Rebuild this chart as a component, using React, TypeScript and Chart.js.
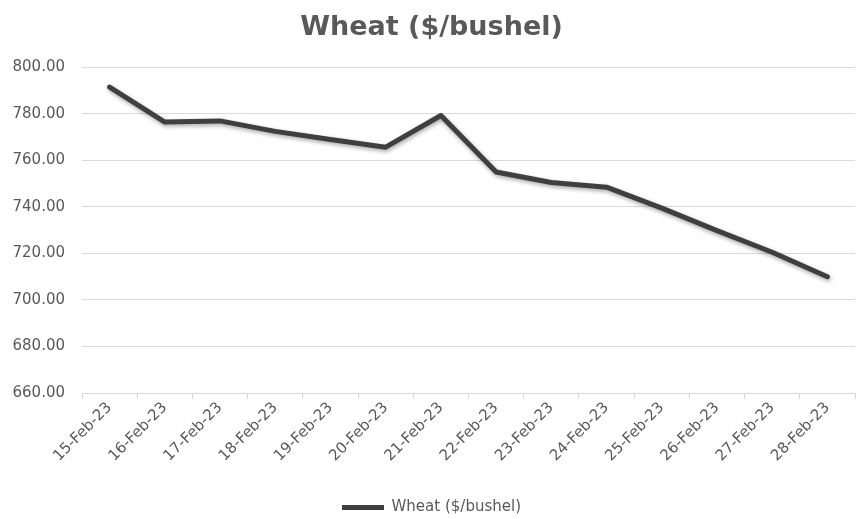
import React, { useEffect, useRef } from "react";
import { Chart, registerables } from "chart.js";

Chart.register(...registerables);

const categories = [
  "15-Feb-23", "16-Feb-23", "17-Feb-23", "18-Feb-23", "19-Feb-23", "20-Feb-23", "21-Feb-23",
  "22-Feb-23", "23-Feb-23", "24-Feb-23", "25-Feb-23", "26-Feb-23", "27-Feb-23", "28-Feb-23",
];
const wheatValues = [791.5, 776.5, 777, 772.5, 769, 765.7, 779.3, 755, 750.5, 748.5, 739.5, 729.8, 720.5, 710];
const seriesName = "Wheat ($/bushel)";
const yMin = 660;
const yMax = 800;
const yStep = 20;

const FONT = "'DejaVu Sans', sans-serif";
const TEXT = "#595959";
const GRID = "#d9d9d9";
const LINE = "#3f3f3f";

const shadowPlugin = {
  id: "lineShadow",
  beforeDatasetDraw(chart: any) {
    const ctx = chart.ctx;
    ctx.save();
    ctx.shadowColor = "rgba(0,0,0,0.35)";
    ctx.shadowBlur = 4;
    ctx.shadowOffsetX = 1;
    ctx.shadowOffsetY = 2;
  },
  afterDatasetDraw(chart: any) {
    chart.ctx.restore();
  },
};

export default function App() {
  const ref = useRef<HTMLCanvasElement | null>(null);

  useEffect(() => {
    if (!ref.current) return;
    const chart = new Chart(ref.current, {
      type: "line",
      data: {
        labels: categories,
        datasets: [
          {
            label: seriesName,
            data: wheatValues,
            borderColor: LINE,
            backgroundColor: LINE,
            borderWidth: 5,
            pointRadius: 0,
            tension: 0,
            borderCapStyle: "round",
            borderJoinStyle: "round",
          },
        ],
      },
      options: {
        animation: false,
        responsive: false,
        maintainAspectRatio: false,
        layout: { padding: { left: 8, right: 3, top: 6, bottom: -6 } },
        plugins: {
          title: {
            display: true,
            text: seriesName,
            color: TEXT,
            font: { family: FONT, size: 27, weight: "bold" },
            padding: { top: 6, bottom: 23 },
          },
          legend: {
            position: "bottom",
            labels: {
              color: TEXT,
              font: { family: FONT, size: 15 },
              usePointStyle: true,
              pointStyle: "line",
              pointStyleWidth: 42,
              boxHeight: 15,
              padding: 2,
            },
          },
          tooltip: { enabled: false },
        },
        scales: {
          x: {
            offset: true,
            grid: {
              display: true,
              offset: true,
              drawOnChartArea: false,
              drawTicks: true,
              tickLength: 6,
              color: GRID,
            },
            border: { display: true, color: GRID },
            ticks: {
              color: TEXT,
              font: { family: FONT, size: 15 },
              minRotation: 45,
              maxRotation: 45,
              autoSkip: false,
              padding: 0,
            },
            afterFit(scale: any) {
              scale.height = 105;
            },
          },
          y: {
            min: yMin,
            max: yMax,
            grid: { color: GRID, drawTicks: false },
            border: { display: false },
            ticks: {
              stepSize: yStep,
              color: TEXT,
              font: { family: FONT, size: 15 },
              padding: 17,
              callback: (v: any) => Number(v).toFixed(2),
            },
            afterFit(scale: any) {
              scale.width = 74;
            },
          },
        },
      },
      plugins: [shadowPlugin],
    });
    return () => chart.destroy();
  }, []);

  return (
    <div style={{ position: "fixed", left: 0, top: 0, width: 858, height: 519, background: "#fff" }}>
      <canvas ref={ref} width={858} height={519} style={{ display: "block", width: 858, height: 519 }} />
    </div>
  );
}
